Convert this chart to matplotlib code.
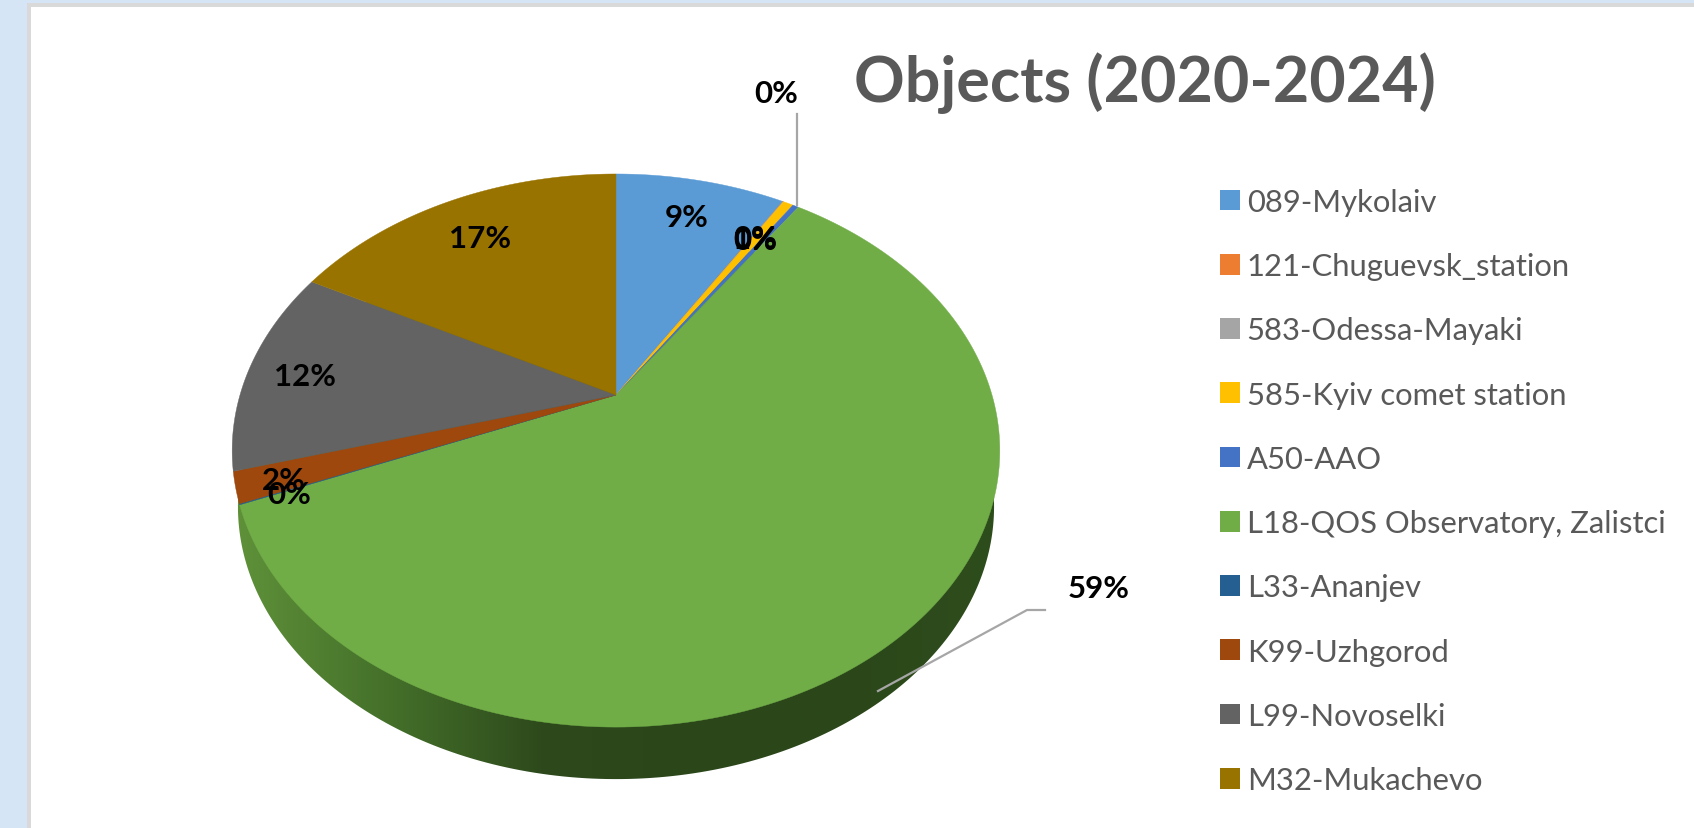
import numpy as np
import matplotlib
matplotlib.use("Agg")
import matplotlib.pyplot as plt
from matplotlib.colors import LinearSegmentedColormap
from matplotlib.patches import Polygon, Rectangle

plt.rcParams['font.family'] = ['Lato', 'DejaVu Sans']

names = ['089-Mykolaiv', '121-Chuguevsk_station', '583-Odessa-Mayaki', '585-Kyiv comet station',
         'A50-AAO', 'L18-QOS Observatory, Zalistci', 'L33-Ananjev', 'K99-Uzhgorod',
         'L99-Novoselki', 'M32-Mukachevo']
values = [8.7, 0.02, 0.02, 0.52, 0.3, 59.2, 0.06, 1.8, 12.1, 17.28]
colors = ['#5B9BD5', '#ED7D31', '#A5A5A5', '#FFC000', '#4472C4', '#70AD47',
          '#255E91', '#9E480E', '#636363', '#997300']
# where excel left each percent label (figure pixels)
label_pos = [(687, 218), (755, 239), (776, 94), (755, 240), (755, 241), (1099, 589),
             (289, 495), (284, 481), (305, 377), (480, 239)]

fig = plt.figure(figsize=(16.94, 8.29), dpi=100, facecolor='#D6E5F5')
ax = fig.add_axes([0, 0, 1, 1])

wedges, _ = ax.pie(values, colors=colors, startangle=90, counterclock=False, radius=1, labels=names)
for t in _:
    t.remove()

# tilt of the 3d pie: circle goes through a perspective map
cx, cy = 616, 396
a, b, p = 265.4, 376, 0.2008


def project(xy, shift=0, scale=1.0):
    x, y = xy[:, 0], xy[:, 1]
    w = 1 + p * y
    return np.column_stack([cx + scale * b * x / w, cy + shift - scale * a * y / w])


polys = []
for w in wedges:
    # dense outline, the bezier flattening is too coarse after the tilt
    th = np.radians(np.linspace(w.theta1, w.theta2, 200))
    arc = np.column_stack([np.cos(th), np.sin(th)])
    polys.append(np.vstack([[0, 0], arc]))
    w.set_visible(False)

ax.set_xlim(0, 1694)
ax.set_ylim(829, 0)
ax.set_aspect('auto')
ax.axis('off')

# white chart panel
ax.add_patch(Rectangle((27, 4), 1700, 900, fc='#D9D9D9', ec='none', zorder=0))
ax.add_patch(Rectangle((31, 8), 1700, 900, fc='white', ec='none', zorder=0.1))

# side wall
t = np.linspace(0, 2 * np.pi, 400)
circle = np.column_stack([np.cos(t), np.sin(t)])
bottom = project(circle, shift=57, scale=0.985)
wall_cmap = LinearSegmentedColormap.from_list('wall', ['#5F9139', '#44702A', '#2E4A1C', '#2B471A', '#2B471A', '#2E4D1C'])
grad = np.linspace(0, 1, 256).reshape(1, -1)
wall = ax.imshow(grad, cmap=wall_cmap, extent=(235, 1000, 829, 0), aspect='auto', zorder=1)
clip = Polygon(bottom, closed=True, transform=ax.transData, fc='none', ec='none')
ax.add_patch(clip)
wall.set_clip_path(clip)
ax.set_xlim(0, 1694)
ax.set_ylim(829, 0)

for poly, c in zip(polys, colors):
    ax.add_patch(Polygon(project(poly), closed=True, fc=c, ec=c, lw=0.3, zorder=2))

# leader lines
ax.plot([797, 797, 797], [206, 160, 115], color='#A6A6A6', lw=1.6, zorder=3)
ax.plot([878, 1027, 1045], [692, 611, 611], color='#A6A6A6', lw=1.6, zorder=3)

for v, (x, y) in zip(values, label_pos):
    ax.text(x, y, f'{v:.0f}%', ha='center', va='center', fontsize=22.5, fontweight='bold', color='black', zorder=4)

ax.text(1145, 83, 'Objects (2020-2024)', ha='center', va='center', fontsize=45.2, fontweight='bold', color='#595959', zorder=4)

handles = [Rectangle((0, 0), 1, 1, fc=c, ec='none') for c in colors]
leg = ax.legend(handles, names, loc='upper left', bbox_to_anchor=(1220 / 1694, 1 - 189 / 829), frameon=False,
                fontsize=22.3, labelcolor='#595959', handlelength=0.65, handleheight=0.65, handletextpad=0.21,
                labelspacing=1.17, borderaxespad=0, borderpad=0)

fig.savefig('out.png', dpi=100, facecolor=fig.get_facecolor())
